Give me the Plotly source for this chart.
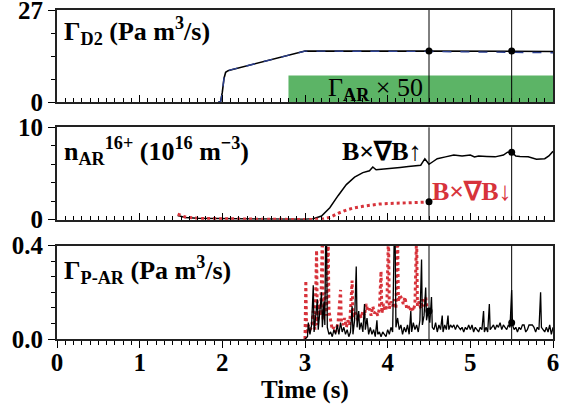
import plotly.graph_objects as go

# ---------------- data ----------------
# Top panel: Gamma_D2 (Pa m^3/s)
d2_black_t = [1.95, 1.98, 2.00, 2.02, 2.04, 2.07, 2.10, 3.00, 4.50, 5.50, 6.00]
d2_black_v = [0.0, 0.3, 3.0, 7.0, 8.8, 9.3, 9.5, 15.0, 15.0, 15.0, 14.9]
d2_blue_t = [1.95, 1.98, 2.00, 2.02, 2.04, 2.07, 2.10, 3.00, 4.50, 5.50, 6.00]
d2_blue_v = [0.0, 0.3, 3.0, 7.0, 8.8, 9.3, 9.5, 15.0, 14.9, 14.7, 14.5]
ar_puff_t = [2.8, 6.0]
ar_puff_v = [7.9]

# Middle panel: n_AR16+ (1e16 m^-3)
n_up_t = [1.46, 1.55, 1.70, 2.00, 2.50, 3.00, 3.10, 3.20, 3.30, 3.40, 3.50, 3.60, 3.70, 3.78,
          3.82, 3.86, 3.95, 4.05, 4.15, 4.25, 4.35, 4.40, 4.45, 4.50, 4.55, 4.60, 4.70, 4.80,
          4.90, 5.00, 5.05, 5.10, 5.20, 5.30, 5.40, 5.45, 5.50, 5.55, 5.60, 5.70, 5.80, 5.90,
          5.95, 6.00]
n_up_v = [0.45, 0.25, 0.15, 0.10, 0.08, 0.05, 0.10, 0.40, 1.30, 2.60, 3.80, 4.60, 5.10, 5.30,
          5.70, 5.40, 5.50, 5.60, 5.65, 5.75, 5.85, 5.90, 6.60, 6.00, 6.30, 6.60, 6.80, 7.00,
          6.90, 7.00, 6.80, 6.90, 6.85, 6.80, 7.00, 7.30, 7.30, 6.90, 6.85, 6.80, 6.55, 6.60,
          6.90, 7.40]
n_dn_t = [1.46, 1.55, 1.70, 2.00, 2.50, 3.00, 3.20, 3.30, 3.40, 3.50, 3.60, 3.70, 3.80, 3.90,
          4.00, 4.10, 4.20, 4.30, 4.40, 4.50]
n_dn_v = [0.60, 0.30, 0.15, 0.10, 0.05, 0.03, 0.05, 0.25, 0.70, 1.05, 1.30, 1.45, 1.60, 1.70,
          1.75, 1.80, 1.82, 1.85, 1.88, 1.92]

# Bottom panel: Gamma_P-AR (Pa m^3/s)
p_up_t = [3.00, 3.03, 3.04, 3.06, 3.08, 3.10, 3.11, 3.13, 3.15, 3.16, 3.18, 3.20, 3.21, 3.23,
          3.24, 3.25, 3.26, 3.27, 3.29, 3.31, 3.33, 3.35, 3.37, 3.39, 3.41, 3.43, 3.45, 3.47,
          3.49, 3.51, 3.53, 3.55, 3.57, 3.58, 3.60, 3.62, 3.63, 3.65, 3.66, 3.68, 3.70, 3.72,
          3.73, 3.75, 3.77, 3.79, 3.81, 3.83, 3.85, 3.87, 3.88, 3.90, 3.92, 3.94, 3.96, 3.98,
          4.00, 4.02, 4.04, 4.06, 4.08, 4.09, 4.10, 4.12, 4.14, 4.16, 4.18, 4.20, 4.22, 4.24,
          4.26, 4.28, 4.29, 4.31, 4.33, 4.35, 4.37, 4.39, 4.41, 4.42, 4.44, 4.46, 4.47, 4.49,
          4.51, 4.53, 4.54, 4.56, 4.58, 4.60, 4.62, 4.64, 4.66, 4.67, 4.69, 4.71, 4.73, 4.74,
          4.76, 4.78, 4.80, 4.82, 4.84, 4.86, 4.88, 4.90, 4.92, 4.94, 4.96, 4.98, 5.00, 5.02,
          5.04, 5.06, 5.08, 5.10, 5.12, 5.14, 5.16, 5.17, 5.19, 5.21, 5.23, 5.24, 5.26, 5.28,
          5.30, 5.32, 5.34, 5.36, 5.38, 5.40, 5.42, 5.44, 5.46, 5.48, 5.50, 5.51, 5.53, 5.55,
          5.57, 5.59, 5.61, 5.63, 5.65, 5.67, 5.69, 5.71, 5.73, 5.75, 5.77, 5.79, 5.81, 5.83,
          5.85, 5.86, 5.88, 5.90, 5.92, 5.94, 5.96, 5.98, 6.00]
p_up_v = [0.00, 0.01, 0.07, 0.02, 0.06, 0.23, 0.03, 0.10, 0.17, 0.04, 0.12, 0.20, 0.05, 0.16,
          0.06, 0.45, 0.45, 0.05, 0.02, 0.03, 0.01, 0.04, 0.02, 0.06, 0.02, 0.07, 0.03, 0.05,
          0.02, 0.04, 0.01, 0.03, 0.14, 0.02, 0.08, 0.31, 0.05, 0.12, 0.04, 0.07, 0.03, 0.15,
          0.04, 0.09, 0.02, 0.05, 0.02, 0.04, 0.01, 0.08, 0.02, 0.03, 0.01, 0.03, 0.02, 0.01,
          0.04, 0.02, 0.05, 0.03, 0.45, 0.45, 0.05, 0.09, 0.04, 0.06, 0.02, 0.05, 0.03, 0.06,
          0.02, 0.12, 0.03, 0.07, 0.04, 0.06, 0.03, 0.08, 0.34, 0.06, 0.10, 0.22, 0.08, 0.12,
          0.07, 0.18, 0.05, 0.04, 0.07, 0.03, 0.06, 0.04, 0.10, 0.03, 0.06, 0.04, 0.10, 0.04,
          0.06, 0.05, 0.06, 0.04, 0.06, 0.05, 0.04, 0.05, 0.03, 0.05, 0.04, 0.06, 0.04, 0.06,
          0.03, 0.05, 0.04, 0.03, 0.05, 0.04, 0.12, 0.03, 0.05, 0.03, 0.15, 0.04, 0.05, 0.06,
          0.04, 0.06, 0.05, 0.07, 0.04, 0.06, 0.05, 0.04, 0.06, 0.05, 0.21, 0.06, 0.04, 0.05,
          0.03, 0.05, 0.04, 0.06, 0.06, 0.03, 0.04, 0.06, 0.06, 0.06, 0.05, 0.03, 0.05, 0.04,
          0.20, 0.05, 0.04, 0.03, 0.05, 0.03, 0.06, 0.02, 0.05]
p_dn_t = [3.00, 3.01, 3.02, 3.04, 3.06, 3.08, 3.10, 3.12, 3.14, 3.15, 3.17, 3.19, 3.21, 3.22,
          3.24, 3.26, 3.28, 3.29, 3.31, 3.33, 3.35, 3.37, 3.40, 3.43, 3.44, 3.46, 3.48, 3.50,
          3.52, 3.54, 3.57, 3.58, 3.60, 3.62, 3.64, 3.66, 3.68, 3.70, 3.72, 3.74, 3.76, 3.78,
          3.80, 3.82, 3.84, 3.86, 3.88, 3.90, 3.92, 3.93, 3.95, 3.97, 3.99, 4.01, 4.02, 4.04,
          4.06, 4.08, 4.10, 4.12, 4.13, 4.15, 4.17, 4.19, 4.21, 4.23, 4.25, 4.27, 4.29, 4.31,
          4.33, 4.35, 4.36, 4.38, 4.40, 4.42, 4.44, 4.46, 4.48, 4.50]
p_dn_v = [0.00, 0.25, 0.02, 0.06, 0.04, 0.05, 0.12, 0.04, 0.38, 0.06, 0.15, 0.10, 0.45, 0.08,
          0.20, 0.10, 0.45, 0.12, 0.08, 0.04, 0.05, 0.03, 0.07, 0.21, 0.07, 0.06, 0.09, 0.05,
          0.08, 0.06, 0.25, 0.09, 0.12, 0.10, 0.08, 0.11, 0.09, 0.12, 0.10, 0.15, 0.12, 0.13,
          0.10, 0.14, 0.11, 0.12, 0.10, 0.13, 0.29, 0.11, 0.15, 0.12, 0.14, 0.45, 0.13, 0.16,
          0.14, 0.17, 0.13, 0.45, 0.16, 0.19, 0.17, 0.15, 0.18, 0.13, 0.14, 0.12, 0.14, 0.12,
          0.15, 0.45, 0.14, 0.16, 0.13, 0.17, 0.14, 0.18, 0.12, 0.12]

# time markers and dots
marker_times = [4.5, 5.5]
dots_top = [15.0, 15.0]
dots_mid = [1.95, 7.3]
dots_bot = [0.12, 0.07]

x_ticks = [0, 1, 2, 3, 4, 5, 6]

# ---------------- styling ----------------
FONT = "Liberation Serif"
RED = "#d7333b"
BLUE = "#2b3f8f"
GREEN = "#5cb466"
FRAME = "#222222"
TICK_SIZE = 25
LABEL_SIZE = 26

fig = go.Figure()

# top
fig.add_trace(go.Scatter(x=d2_black_t, y=d2_black_v, mode="lines", xaxis="x", yaxis="y",
                         line=dict(color="black", width=1.6)))
fig.add_trace(go.Scatter(x=d2_blue_t, y=d2_blue_v, mode="lines", xaxis="x", yaxis="y",
                         line=dict(color=BLUE, width=1.4, dash="dash")))
fig.add_trace(go.Scatter(x=marker_times, y=dots_top, mode="markers", xaxis="x", yaxis="y",
                         marker=dict(color="black", size=7)))
# middle
fig.add_trace(go.Scatter(x=n_up_t, y=n_up_v, mode="lines", xaxis="x2", yaxis="y2",
                         line=dict(color="black", width=1.5)))
fig.add_trace(go.Scatter(x=n_dn_t, y=n_dn_v, mode="lines", xaxis="x2", yaxis="y2",
                         line=dict(color=RED, width=3, dash="dot")))
fig.add_trace(go.Scatter(x=marker_times, y=dots_mid, mode="markers", xaxis="x2", yaxis="y2",
                         marker=dict(color="black", size=7)))
# bottom
fig.add_trace(go.Scatter(x=p_dn_t, y=p_dn_v, mode="lines", xaxis="x3", yaxis="y3",
                         line=dict(color=RED, width=3, dash="dot")))
fig.add_trace(go.Scatter(x=p_up_t, y=p_up_v, mode="lines", xaxis="x3", yaxis="y3",
                         line=dict(color="black", width=1.3)))
fig.add_trace(go.Scatter(x=marker_times, y=dots_bot, mode="markers", xaxis="x3", yaxis="y3",
                         marker=dict(color="black", size=7)))

dom_top = [0.719, 1.0]
dom_mid = [0.3625, 0.6435]
dom_bot = [0.0, 0.284]

def xax(anchor, show_labels, ticks):
    return dict(domain=[0, 1], anchor=anchor, range=[0, 6], showgrid=False, zeroline=False,
                automargin=False, ticklabeloverflow="allow",
                showline=True, mirror=True, linewidth=2, linecolor=FRAME,
                tickmode="array", tickvals=x_ticks, showticklabels=show_labels,
                ticks=ticks, ticklen=7, tickwidth=1.2, tickcolor="black",
                minor=dict(tickmode="linear", tick0=0, dtick=0.1, ticks=ticks, ticklen=4,
                           tickwidth=1, tickcolor="black"),
                tickfont=dict(family=FONT, size=TICK_SIZE, color="black"))

def yax(anchor, dom, rng, tickvals, ticktext, minor_dtick):
    return dict(domain=dom, anchor=anchor, range=rng, showgrid=False, zeroline=False,
                automargin=False, ticklabeloverflow="allow",
                showline=True, mirror=True, linewidth=2, linecolor=FRAME,
                tickmode="array", tickvals=tickvals, ticktext=ticktext,
                ticks="outside", ticklen=7, tickwidth=1.2, tickcolor="black",
                minor=dict(tickmode="linear", tick0=0, dtick=minor_dtick, ticks="outside",
                           ticklen=4, tickwidth=1, tickcolor="black"),
                tickfont=dict(family=FONT, size=TICK_SIZE, color="black"))

fig.update_layout(
    width=567, height=407,
    margin=dict(l=57, r=14, t=10, b=68),
    paper_bgcolor="white", plot_bgcolor="white",
    showlegend=False,
    xaxis=xax("y", False, "inside"),
    xaxis2=xax("y2", False, "inside"),
    xaxis3=xax("y3", True, "outside"),
    yaxis=yax("x", dom_top, [0, 27], [0, 27], ["<b>0</b>", "<b>27</b>"], 6.75),
    yaxis2=yax("x2", dom_mid, [0, 10], [0, 10], ["<b>0</b>", "<b>10</b>"], 2),
    yaxis3=yax("x3", dom_bot, [0, 0.4], [0, 0.4], ["<b>0.0</b>", "<b>0.4</b>"], 0.4 / 6),
)
fig.update_layout(xaxis3=dict(ticktext=[f"<b>{v}</b>" for v in x_ticks], ticklabelstandoff=-7))

shapes = [dict(type="rect", xref="x", yref="y", x0=ar_puff_t[0], x1=ar_puff_t[1],
               y0=0, y1=ar_puff_v[0], fillcolor=GREEN, line=dict(width=0), layer="below")]
for t in marker_times:
    for yr in ["y", "y2", "y3"]:
        shapes.append(dict(type="line", xref="x", yref=f"{yr} domain", x0=t, x1=t, y0=0, y1=1,
                           line=dict(color="black", width=1)))
fig.update_layout(shapes=shapes)

ann_font = dict(family=FONT, size=LABEL_SIZE, color="black")
annotations = [
    dict(xref="paper", yref="y domain", x=0.010, y=0.77, xanchor="left", yanchor="middle",
         text="<b>Γ<sub>D2</sub> (Pa m<sup>3</sup>/s)</b>", showarrow=False, font=ann_font),
    dict(xref="x", yref="y", x=3.85, y=4.0, xanchor="center", yanchor="middle",
         text="Γ<sub><b>AR</b></sub> × 50", showarrow=False, font=ann_font),
    dict(xref="paper", yref="y2 domain", x=0.010, y=0.74, xanchor="left", yanchor="middle",
         text="<b>n<sub>AR</sub><sup>16+</sup> (10<sup>16</sup> m<sup>−3</sup>)</b>",
         showarrow=False, font=ann_font),
    dict(xref="x2", yref="y2", x=3.93, y=7.4, xanchor="center", yanchor="middle",
         text="<b>B×∇B↑</b>", showarrow=False, font=dict(family=FONT, size=LABEL_SIZE, color="black")),
    dict(xref="x2", yref="y2", x=5.02, y=3.0, xanchor="center", yanchor="middle",
         text="<b>B×∇B↓</b>", showarrow=False, font=dict(family=FONT, size=LABEL_SIZE, color=RED)),
    dict(xref="paper", yref="y3 domain", x=0.010, y=0.74, xanchor="left", yanchor="middle",
         text="<b>Γ<sub>P-AR</sub> (Pa m<sup>3</sup>/s)</b>", showarrow=False, font=ann_font),
    dict(xref="paper", yref="paper", x=0.5, y=-0.155, xanchor="center", yanchor="middle",
         text="<b>Time (s)</b>", showarrow=False,
         font=dict(family=FONT, size=TICK_SIZE, color="black")),
]
fig.update_layout(annotations=annotations)

fig.write_html("out.html")
